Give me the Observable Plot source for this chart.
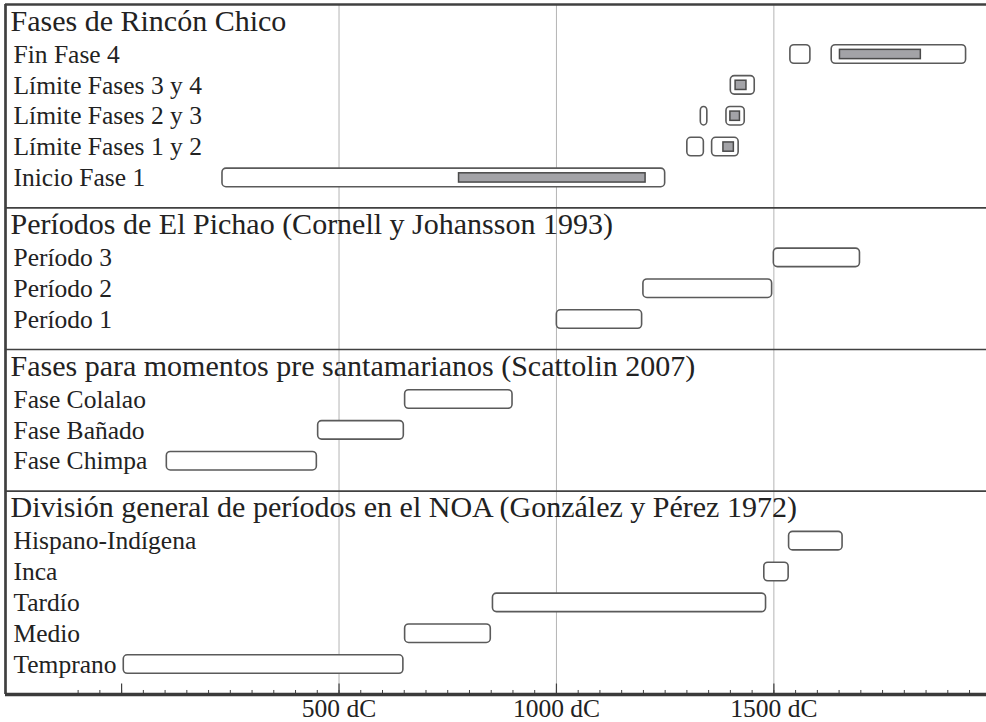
<!DOCTYPE html>
<html><head><meta charset="utf-8">
<script src="https://cdn.jsdelivr.net/npm/d3@7"></script>
<script src="https://cdn.jsdelivr.net/npm/@observablehq/plot@0.6"></script>
<style>body{margin:0;background:#fff;overflow:hidden}</style>
</head><body><div id="chart"></div>
<script>
// ---- data ----
const sectionTitles = [
  "Fases de Rincón Chico",
  "Períodos de El Pichao (Cornell y Johansson 1993)",
  "Fases para momentos pre santamarianos (Scattolin 2007)",
  "División general de períodos en el NOA (González y Pérez 1972)"
];
const rowLabels = [
  "Fin Fase 4", "Límite Fases 3 y 4", "Límite Fases 2 y 3", "Límite Fases 1 y 2", "Inicio Fase 1",
  "Período 3", "Período 2", "Período 1",
  "Fase Colalao", "Fase Bañado", "Fase Chimpa",
  "Hispano-Indígena", "Inca", "Tardío", "Medio", "Temprano"
];
const rowSection = [0,0,0,0,0, 1,1,1, 2,2,2, 3,3,3,3,3];

// outer (white, rounded) ranges
const boxRow = [
  "Fin Fase 4", "Fin Fase 4", "Límite Fases 3 y 4", "Límite Fases 2 y 3", "Límite Fases 2 y 3",
  "Límite Fases 1 y 2", "Límite Fases 1 y 2", "Inicio Fase 1",
  "Período 3", "Período 2", "Período 1",
  "Fase Colalao", "Fase Bañado", "Fase Chimpa",
  "Hispano-Indígena", "Inca", "Tardío", "Medio", "Temprano"
];
const boxStart = [1538, 1633, 1401, 1332, 1391, 1301, 1358, 232, 1500, 1200, 1001, 652, 452, 104, 1535, 1478, 854, 652, 5];
const boxEnd   = [1584, 1942, 1456, 1347, 1433, 1339, 1419, 1250, 1698, 1496, 1197, 899, 649, 449, 1658, 1534, 1482, 849, 648];

// inner (grey) ranges
const innerRow   = ["Fin Fase 4", "Límite Fases 3 y 4", "Límite Fases 2 y 3", "Límite Fases 1 y 2", "Inicio Fase 1"];
const innerStart = [1652, 1412, 1400, 1384, 776];
const innerEnd   = [1838, 1437, 1422, 1408, 1205];

// axis
const xDomain = [-267, 1989];
const gridTicks = [500, 1000, 1500];
const majorTicks = [0, 500, 1000, 1500];
const tickLabels = ["500 dC", "1000 dC", "1500 dC"];
const minorTicks = [-100,-50,0,50,100,150,200,250,300,350,400,450,500,550,600,650,700,750,800,850,900,950,
  1000,1050,1100,1150,1200,1250,1300,1350,1400,1450,1500,1550,1600,1650,1700,1750,1800,1850,1900,1950];

// ---- layout in row units ----
const TITLE_OFF = 0.54, FIRST_OFF = 1.62, END_PAD = 0.97;
let cursor = 0;
const sectionStart = [], titleY = [];
const rowY = new Map();
sectionTitles.forEach((t, s) => {
  sectionStart.push(cursor);
  titleY.push(cursor + TITLE_OFF);
  const rows = rowLabels.filter((_, i) => rowSection[i] === s);
  rows.forEach((r, i) => rowY.set(r, cursor + FIRST_OFF + i));
  cursor += FIRST_OFF + rows.length - 1 + END_PAD;
});
const total = cursor;

const boxes = boxRow.map((r, i) => ({row: r, start: boxStart[i], end: boxEnd[i]}));
const inners = innerRow.map((r, i) => ({row: r, start: innerStart[i], end: innerEnd[i]}));
const titles = sectionTitles.map((t, i) => ({text: t, y: titleY[i]}));
const labels = rowLabels.map(r => ({text: r, y: rowY.get(r)}));

const dark = "#404040";
const chart = Plot.plot({
  width: 986, height: 722,
  marginTop: 4, marginBottom: 28, marginLeft: 5, marginRight: 0,
  x: {domain: xDomain, axis: null},
  y: {domain: [0, total], reverse: true, axis: null},
  style: {fontFamily: "'Liberation Serif', 'Times New Roman', serif", background: "white", color: "#222"},
  marks: [
    Plot.ruleX(gridTicks, {x: d => d, stroke: "#b4b4b4", strokeWidth: 1}),
    Plot.ruleY(sectionStart.slice(1), {y: d => d, stroke: dark, strokeWidth: 1.7}),
    Plot.ruleY([0], {y: d => d, stroke: dark, strokeWidth: 2.7}),
    Plot.ruleX([xDomain[0]], {x: d => d, stroke: dark, strokeWidth: 2.7}),
    Plot.rect(boxes, {
      x1: "start", x2: "end",
      y1: d => rowY.get(d.row) - 0.3, y2: d => rowY.get(d.row) + 0.3,
      fill: "white", stroke: "#5a5a5a", strokeWidth: 1.6, rx: 4
    }),
    Plot.rect(inners, {
      x1: "start", x2: "end",
      y1: d => rowY.get(d.row) - 0.15, y2: d => rowY.get(d.row) + 0.15,
      fill: "#a3a3a7", stroke: "#4a4a4a", strokeWidth: 1.5
    }),
    Plot.ruleX(minorTicks, {x: d => d, y1: total, y2: total - 0.13, stroke: dark, strokeWidth: 1}),
    Plot.ruleX(majorTicks, {x: d => d, y1: total, y2: total - 0.34, stroke: dark, strokeWidth: 1.2}),
    Plot.ruleY([total], {y: d => d, stroke: "#3a3a3a", strokeWidth: 3.5}),
    Plot.text(titles, {text: "text", y: "y", frameAnchor: "left", dx: 5, textAnchor: "start", fontSize: 30, fill: "#222"}),
    Plot.text(labels, {text: "text", y: "y", frameAnchor: "left", dx: 8, textAnchor: "start", fontSize: 25.5, fill: "#222"}),
    Plot.text(gridTicks, {x: d => d, text: (d, i) => tickLabels[i], frameAnchor: "bottom", dy: 22.5, fontSize: 25.5, fill: "#222"})
  ]
});
document.getElementById("chart").appendChild(chart);
</script>
</body></html>
